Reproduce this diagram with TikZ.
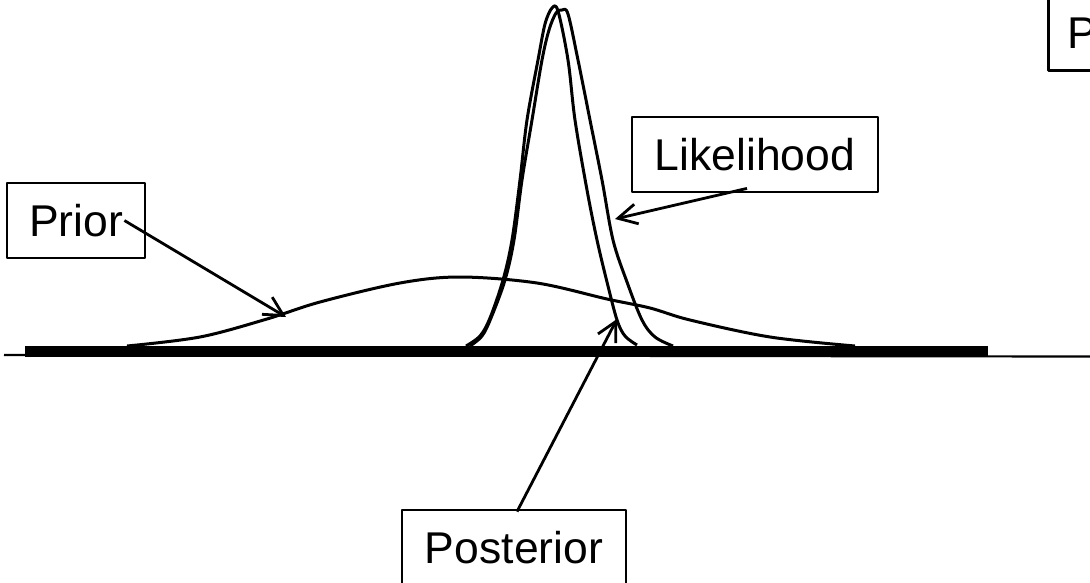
\documentclass[tikz,border=0pt]{standalone}
\usepackage{fontspec}
\setmainfont{Liberation Sans}
\usetikzlibrary{arrows.meta,positioning}

\begin{document}
\begin{tikzpicture}[
    x=1pt, y=-1pt,
    labelbox/.style={draw, line width=2.8pt, inner sep=0pt,
                     minimum height=75pt,
                     font=\fontsize{44.5}{50}\selectfont},
    density/.style={line width=3pt, smooth, tension=0.55},
    pointer/.style={line width=2.8pt,
                    -{Straight Barb[length=19pt,width=20pt]}},
    line join=round
  ]

  \useasboundingbox (0,0) rectangle (1090,582);
  \clip (0,0) rectangle (1090,582);

  %% Axis
  \draw[line width=2.2pt] (4,355) -- (1090,356.5);
  \draw[line width=11pt] (25,351.5) -- (988,351.5);

  %% Prior
  \draw[density] plot coordinates {
    (127,346) (200,337) (267,319) (320,302) (400,283) (460,277)
    (537,283) (607,299) (650,308) (690,320) (770,337) (855,346)};

  %% Likelihood
  \draw[density] plot coordinates {
    (470,346) (482,336) (491,318) (505,280) (514,240) (522,180)
    (532,120) (542,60) (549,30) (556,13) (562,10) (568,14) (578,60)
    (590,120) (602,180) (613,240) (627,282) (642,320) (655,337)
    (673,346)};

  %% Posterior
  \draw[density] plot coordinates {
    (466,346) (480,336) (490,318) (503,280) (512,240) (520,180)
    (527,120) (538,60) (545,24) (552,8) (558,11) (568,60) (575,120)
    (587,190) (597,240) (607,282) (617,320) (625,336) (637,345)};

  %% Labels
  \node[labelbox, minimum width=138pt] (prior) at (76,220.5) {Prior};
  \node[labelbox, minimum width=246pt] (lik) at (755,154.5) {Likelihood};
  \node[labelbox, minimum width=224pt] (post) at (514,547.5) {Posterior};
  \node[labelbox, anchor=south west, text width=112pt, align=left,
        inner xsep=19pt] (extra) at (1047,72) {P};

  %% Arrows
  \coordinate (priortip) at (286,317);
  \coordinate (liktip) at (615,219);
  \coordinate (posttip) at (617,319);

  \draw[pointer] ([xshift=-22pt]prior.east) -- (priortip);
  \draw[pointer] ([xshift=-8pt,yshift=5pt]lik.south) -- (liktip);
  \draw[pointer] ([xshift=3pt,yshift=-3pt]post.north) -- (posttip);

\end{tikzpicture}
\end{document}
